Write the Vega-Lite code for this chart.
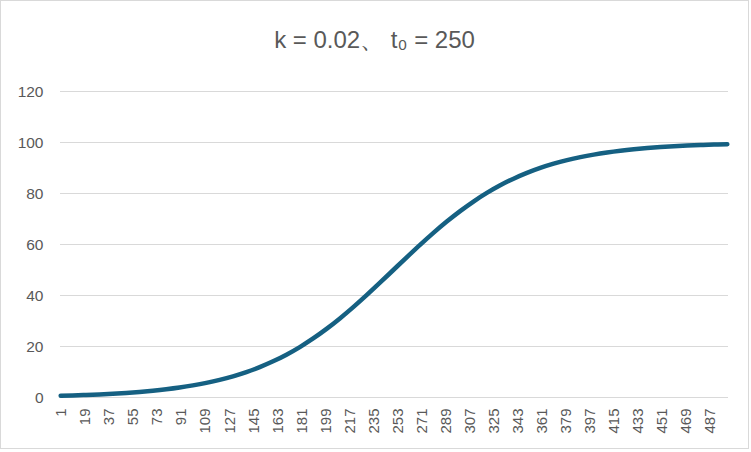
{
  "$schema": "https://vega.github.io/schema/vega-lite/v6.json",
  "width": 749,
  "height": 449,
  "autosize": "none",
  "padding": 0,
  "background": "white",
  "config": {"view": {"stroke": "#d9d9d9", "strokeWidth": 2}, "font": "Liberation Sans"},
  "title": {
    "text": "k = 0.02、 t₀ = 250",
    "fontSize": 24,
    "fontWeight": "normal",
    "color": "#595959",
    "font": "Liberation Sans",
    "anchor": "middle",
    "frame": "group",
    "offset": -53
  },
  "layer": [
    {
      "data": {"values": [{"g": 0}, {"g": 20}, {"g": 40}, {"g": 60}, {"g": 80}, {"g": 100}, {"g": 120}]},
      "mark": {"type": "rule", "color": "#d9d9d9", "strokeWidth": 1},
      "encoding": {
        "y": {
          "field": "g",
          "type": "quantitative",
          "scale": {"domain": [0, 120], "nice": false, "range": [397.5, 91.5]},
          "axis": {
            "title": null,
            "offset": -60,
            "values": [0, 20, 40, 60, 80, 100, 120],
            "labelFontSize": 15.5,
            "labelColor": "#595959",
            "labelFont": "Liberation Sans",
            "labelPadding": 17,
            "grid": false,
            "ticks": false,
            "domain": false
          }
        },
        "x": {
          "datum": 0.5,
          "type": "quantitative",
          "scale": {"domain": [0.5, 500.5], "nice": false, "zero": false, "range": [60, 728]},
          "axis": {
            "title": null,
            "offset": -52,
            "values": [1, 19, 37, 55, 73, 91, 109, 127, 145, 163, 181, 199, 217, 235, 253, 271, 289, 307, 325, 343, 361, 379, 397, 415, 433, 451, 469, 487],
            "labelAngle": -90,
            "labelAlign": "right",
            "labelBaseline": "middle",
            "labelPadding": 11,
            "labelFontSize": 15,
            "labelColor": "#595959",
            "labelFont": "Liberation Sans",
            "labelOverlap": false,
            "labelFlush": false,
            "grid": false,
            "ticks": false,
            "domain": false
          }
        },
        "x2": {"datum": 500.5}
      }
    },
    {
      "data": {
        "values": [
          {"t": 1, "y": 0.683},
          {"t": 10, "y": 0.816},
          {"t": 20, "y": 0.995},
          {"t": 30, "y": 1.213},
          {"t": 40, "y": 1.477},
          {"t": 50, "y": 1.799},
          {"t": 60, "y": 2.188},
          {"t": 70, "y": 2.660},
          {"t": 80, "y": 3.230},
          {"t": 90, "y": 3.917},
          {"t": 100, "y": 4.743},
          {"t": 110, "y": 5.732},
          {"t": 120, "y": 6.914},
          {"t": 130, "y": 8.317},
          {"t": 140, "y": 9.975},
          {"t": 150, "y": 11.920},
          {"t": 160, "y": 14.185},
          {"t": 170, "y": 16.798},
          {"t": 180, "y": 19.782},
          {"t": 190, "y": 23.148},
          {"t": 200, "y": 26.894},
          {"t": 210, "y": 31.003},
          {"t": 220, "y": 35.434},
          {"t": 230, "y": 40.131},
          {"t": 240, "y": 45.017},
          {"t": 250, "y": 50.000},
          {"t": 260, "y": 54.983},
          {"t": 270, "y": 59.869},
          {"t": 280, "y": 64.566},
          {"t": 290, "y": 68.997},
          {"t": 300, "y": 73.106},
          {"t": 310, "y": 76.852},
          {"t": 320, "y": 80.218},
          {"t": 330, "y": 83.202},
          {"t": 340, "y": 85.815},
          {"t": 350, "y": 88.080},
          {"t": 360, "y": 90.025},
          {"t": 370, "y": 91.683},
          {"t": 380, "y": 93.086},
          {"t": 390, "y": 94.268},
          {"t": 400, "y": 95.257},
          {"t": 410, "y": 96.083},
          {"t": 420, "y": 96.770},
          {"t": 430, "y": 97.340},
          {"t": 440, "y": 97.812},
          {"t": 450, "y": 98.201},
          {"t": 460, "y": 98.523},
          {"t": 470, "y": 98.787},
          {"t": 480, "y": 99.005},
          {"t": 490, "y": 99.184},
          {"t": 500, "y": 99.331}
        ]
      },
      "mark": {
        "type": "line",
        "color": "#156082",
        "strokeWidth": 4.5,
        "strokeCap": "round",
        "strokeJoin": "round",
        "interpolate": "monotone"
      },
      "encoding": {
        "x": {
          "field": "t",
          "type": "quantitative",
          "scale": {"domain": [0.5, 500.5], "nice": false, "zero": false, "range": [60, 728]},
          "axis": {
            "title": null,
            "offset": -52,
            "values": [1, 19, 37, 55, 73, 91, 109, 127, 145, 163, 181, 199, 217, 235, 253, 271, 289, 307, 325, 343, 361, 379, 397, 415, 433, 451, 469, 487],
            "labelAngle": -90,
            "labelAlign": "right",
            "labelBaseline": "middle",
            "labelPadding": 11,
            "labelFontSize": 15,
            "labelColor": "#595959",
            "labelFont": "Liberation Sans",
            "labelOverlap": false,
            "labelFlush": false,
            "grid": false,
            "ticks": false,
            "domain": false
          }
        },
        "y": {
          "field": "y",
          "type": "quantitative",
          "scale": {"domain": [0, 120], "nice": false, "range": [397.5, 91.5]},
          "axis": {
            "title": null,
            "offset": -60,
            "values": [0, 20, 40, 60, 80, 100, 120],
            "labelFontSize": 15.5,
            "labelColor": "#595959",
            "labelFont": "Liberation Sans",
            "labelPadding": 17,
            "grid": false,
            "ticks": false,
            "domain": false
          }
        }
      }
    }
  ]
}
